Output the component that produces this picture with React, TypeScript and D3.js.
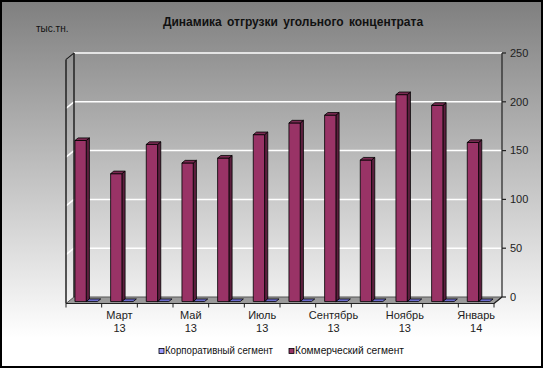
import React from "react";
import * as d3 from "d3";

// months shown on the category axis (label only every second one)
const months = ["Февраль", "Март", "Апрель", "Май", "Июнь", "Июль", "Август", "Сентябрь", "Октябрь", "Ноябрь", "Декабрь", "Январь"];
const years = ["13", "13", "13", "13", "13", "13", "13", "13", "13", "13", "13", "14"];
const commercial = [165, 131, 161, 142, 147, 171, 183, 191, 145, 212, 201, 163];
const corporate = [0, 0, 0, 0, 0, 0, 0, 0, 0, 0, 0, 0];
const yTicks = [0, 50, 100, 150, 200, 250];
const seriesNames = ["Корпоративный сегмент", "Коммерческий сегмент"];

const W = 543;
const H = 368;
const DX = 8; // depth offset front -> back
const DY = -6.5;
const FONT = "Arial, 'Liberation Sans', sans-serif";

export default function App() {
  const cats = months.map((m, i) => m + " " + years[i]);
  const x = d3.scaleBand().domain(cats).range([66, 494]).padding(0);
  const xInner = d3.scaleBand().domain(["comm", "corp"]).range([0, x.bandwidth()]).paddingInner(0).paddingOuter(0.58);
  const yFront = d3.scaleLinear().domain([0, 250]).range([303.5, 59.5]);
  const yBack = (v: number) => yFront(v) + DY;
  const bw = xInner.bandwidth();
  const f = 0.3; // where bars sit in depth
  const bdx = 0.4 * DX;
  const bdy = 0.4 * DY;

  const pts = (a: number[][]) => a.map((p) => p.join(",")).join(" ");

  const bar = (key: string, i: number, v: number, cols: string[]) => {
    const x0 = (x(cats[i]) as number) + (xInner(key) as number) + f * DX;
    const base = yFront(0) + f * DY;
    const top = base - (yFront(0) - yFront(v));
    return (
      <g key={key + i} stroke="#000" strokeWidth={0.8} strokeLinejoin="round">
        {v > 0 && (
          <polygon fill={cols[1]} points={pts([[x0 + bw, top], [x0 + bw, base], [x0 + bw + bdx, base + bdy], [x0 + bw + bdx, top + bdy]])} />
        )}
        {v > 0 && <rect x={x0} y={top} width={bw} height={base - top} fill={cols[0]} />}
        <polygon fill={cols[2]} points={pts([[x0, top], [x0 + bw, top], [x0 + bw + bdx, top + bdy], [x0 + bdx, top + bdy]])} />
      </g>
    );
  };

  const left = 66;
  const right = 494;

  return (
    <svg width={W} height={H} style={{ position: "absolute", left: 0, top: 0 }} fontFamily={FONT}>
      <defs>
        <linearGradient id="bg" x1="0" y1="0" x2="0" y2="1">
          <stop offset="0" stopColor="#7f7f7f" />
          <stop offset="0.92" stopColor="#ffffff" />
          <stop offset="1" stopColor="#ffffff" />
        </linearGradient>
      </defs>
      <rect x={1} y={1} width={W - 2} height={H - 2} fill="url(#bg)" stroke="#000" strokeWidth={2} />

      <text x={293} y={26} textAnchor="middle" fontSize={12} fontWeight="bold" fill="#111" wordSpacing={2}>
        Динамика отгрузки угольного концентрата
      </text>
      <text x={36} y={32} fontSize={10} fill="#111">тыс.тн.</text>

      {/* floor */}
      <polygon
        points={pts([[left, yFront(0)], [right, yFront(0)], [right + DX, yBack(0)], [left + DX, yBack(0)]])}
        fill="#9a9a9a"
        stroke="#555"
        strokeWidth={1}
      />

      {/* gridlines on back and left walls */}
      {yTicks.filter((t) => t > 0).map((t) => (
        <g key={t} stroke="#fff" strokeWidth={1.5}>
          <line x1={left + DX} x2={right + DX} y1={yBack(t)} y2={yBack(t)} />
          <line x1={left} x2={left + DX} y1={yFront(t)} y2={yBack(t)} />
        </g>
      ))}

      {/* left wall edges */}
      <g stroke="#222" strokeWidth={1.5} fill="none">
        <line x1={left} x2={left} y1={yFront(250)} y2={yFront(0)} />
        <line x1={left + DX} x2={left + DX} y1={yBack(250)} y2={yBack(0)} />
        <line x1={left} x2={left + DX} y1={yFront(250)} y2={yBack(250)} />
      </g>

      {/* value axis on the right */}
      <g stroke="#222" strokeWidth={1.2} fill="none">
        <line x1={right + DX} x2={right + DX} y1={yBack(250)} y2={yBack(0)} />
        <line x1={right} x2={right + DX} y1={yFront(0)} y2={yBack(0)} />
        {yTicks.map((t) => (
          <line key={t} x1={right + DX} x2={right + DX + 4} y1={yBack(t)} y2={yBack(t)} />
        ))}
      </g>
      {yTicks.map((t) => (
        <text key={t} x={right + DX + 8} y={yBack(t)} dy="0.35em" fontSize={11} fill="#222">
          {t}
        </text>
      ))}

      {/* category axis */}
      <g stroke="#222" strokeWidth={1}>
        <line x1={left} x2={right} y1={yFront(0)} y2={yFront(0)} />
        {cats.map((c) => (
          <line key={c} x1={x(c)} x2={x(c)} y1={yFront(0)} y2={yFront(0) + 4} />
        ))}
        <line x1={right} x2={right} y1={yFront(0)} y2={yFront(0) + 4} />
      </g>
      {cats.map((c, i) =>
        i % 2 === 1 ? (
          <text key={c} x={(x(c) as number) + x.bandwidth() / 2} y={319} textAnchor="middle" fontSize={11} fill="#222">
            <tspan x={(x(c) as number) + x.bandwidth() / 2}>{months[i]}</tspan>
            <tspan x={(x(c) as number) + x.bandwidth() / 2} dy={12.5}>{years[i]}</tspan>
          </text>
        ) : null
      )}

      {/* bars */}
      {cats.map((c, i) => (
        <g key={c}>
          {bar("comm", i, commercial[i], ["#993366", "#5c1f3e", "#7a2a52"])}
          {bar("corp", i, corporate[i], ["#9999ff", "#5c5c99", "#6b6bcc"])}
        </g>
      ))}

      {/* legend */}
      <rect x={159} y={348.5} width={5} height={5} fill="#9999ff" stroke="#000" strokeWidth={0.8} />
      <text x={165} y={354} fontSize={10} fill="#111" textLength={108} lengthAdjust="spacingAndGlyphs">
        {seriesNames[0]}
      </text>
      <rect x={289} y={348.5} width={5} height={5} fill="#993366" stroke="#000" strokeWidth={0.8} />
      <text x={295} y={354} fontSize={10} fill="#111" textLength={109} lengthAdjust="spacingAndGlyphs">
        {seriesNames[1]}
      </text>
    </svg>
  );
}
